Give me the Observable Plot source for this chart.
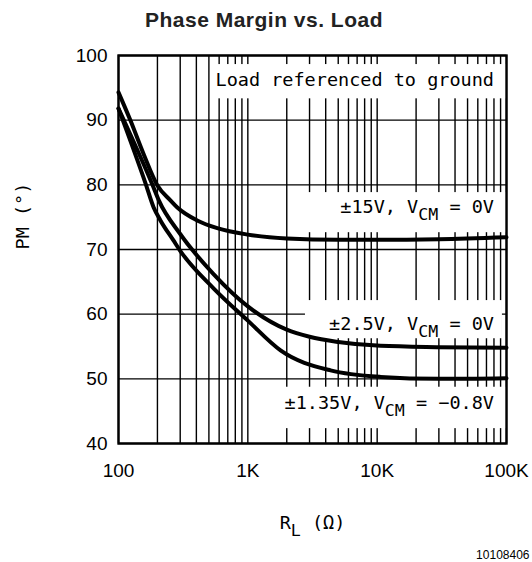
<!DOCTYPE html>
<html><head><meta charset="utf-8">
<script src="https://cdn.jsdelivr.net/npm/d3@7"></script>
<script src="https://cdn.jsdelivr.net/npm/@observablehq/plot@0.6"></script>
<style>body{margin:0;background:#fff}</style>
</head><body><div id="chart"></div>
<script>
// Axis ticks
const xTicks = [100, 1000, 10000, 100000];
const xTickLabels = ["100", "1K", "10K", "100K"];
const yTicks = [40, 50, 60, 70, 80, 90, 100];
const minorX = [200,300,400,500,600,700,800,900,2000,3000,4000,5000,6000,7000,8000,9000,20000,30000,40000,50000,60000,70000,80000,90000];

// Series: ±15V, VCM = 0V
const r15 = [100, 124, 156, 200, 252, 285, 406, 580, 1000, 2000, 5000, 10000, 30000, 100000];
const pm15 = [94.3, 89.9, 84.8, 79.9, 77.6, 76.5, 74.5, 73.3, 72.3, 71.7, 71.5, 71.5, 71.6, 71.9];
// Series: ±2.5V, VCM = 0V
const r25 = [100, 183, 205, 300, 543, 1000, 2000, 3000, 5000, 10600, 30000, 100000];
const pm25 = [91.8, 80.0, 77.6, 72.4, 66.2, 61.2, 57.6, 56.5, 55.7, 55.1, 54.9, 54.8];
// Series: ±1.35V, VCM = -0.8V
const r135 = [100, 162, 187, 211, 266, 300, 543, 1000, 1790, 4360, 10600, 30000, 100000];
const pm135 = [91.8, 80.2, 76.5, 74.5, 71.4, 69.8, 64.0, 59.0, 54.4, 51.3, 50.3, 50.0, 50.1];

// Annotations
const labelText = ["Load referenced to ground", "±15V, V_{CM} = 0V", "±2.5V, V_{CM} = 0V", "±1.35V, V_{CM} = −0.8V"];
const labelX = [80000, 80000, 80000, 80000];
const labelY = [96.2, 76.5, 58.4, 46.2];
const boxX1 = [543, 2465, 2790, 1211];
const boxX2 = [100000, 100000, 93000, 100000];
const boxY1 = [93.3, 72.6, 56.2, 42.3];
const boxY2 = [98.6, 78.8, 62.1, 48.7];
const titleText = "Phase Margin vs. Load";

const toPts = (rs, ps) => rs.map((r, i) => ({r, pm: ps[i]}));
const boxes = boxX1.map((x1, i) => ({x1, x2: boxX2[i], y1: boxY1[i], y2: boxY2[i]}));
const labels = labelText.map((t, i) => ({t, x: labelX[i], y: labelY[i]}));

const mono = "DejaVu Sans Mono, monospace";
const sans = "Liberation Sans, Arial, Helvetica, sans-serif";
const lineOpts = {x: "r", y: "pm", stroke: "black", strokeWidth: 4, curve: "monotone-x"};

const plot = Plot.plot({
  width: 532, height: 562,
  marginLeft: 118, marginRight: 26, marginTop: 55, marginBottom: 119,
  x: {type: "log", domain: [100, 100000]},
  y: {domain: [40, 100]},
  style: {background: "white", color: "black", fontFamily: sans},
  marks: [
    Plot.ruleX(minorX, {stroke: "black", strokeWidth: 1.4}),
    Plot.ruleX(xTicks, {stroke: "black", strokeWidth: 1.4}),
    Plot.ruleY(yTicks, {stroke: "black", strokeWidth: 1.4}),
    Plot.rect(boxes, {x1: "x1", x2: "x2", y1: "y1", y2: "y2", fill: "white"}),
    Plot.line(toPts(r15, pm15), lineOpts),
    Plot.line(toPts(r25, pm25), lineOpts),
    Plot.line(toPts(r135, pm135), lineOpts),
    Plot.frame({stroke: "black", strokeWidth: 2.4}),
    Plot.axisX(xTicks, {tickFormat: d => xTickLabels[xTicks.indexOf(d)], tickSize: 0, tickPadding: 20, fontSize: 19, label: null, fontFamily: sans}),
    Plot.axisY(yTicks, {tickSize: 0, tickPadding: 11, fontSize: 19, label: null, fontFamily: sans}),
    Plot.text(labels, {x: "x", y: "y", text: "t", textAnchor: "end", lineAnchor: "middle", fontSize: 18.5, fontFamily: mono, fill: "black"}),
    Plot.text([titleText], {frameAnchor: "top", dx: -48.5, dy: -35, lineAnchor: "middle", fontWeight: "bold", fontSize: 21, fill: "#222", fontFamily: sans}),
    Plot.text(["PM (°)"], {frameAnchor: "left", dx: -95, rotate: -90, lineAnchor: "middle", fontSize: 18.5, fontFamily: mono, fill: "black"}),
    Plot.text(["R_{L} (Ω)"], {frameAnchor: "bottom", dy: 79.5, lineAnchor: "middle", fontSize: 18.5, fontFamily: mono, fill: "black"}),
    Plot.text(["10108406"], {frameAnchor: "bottom-right", dx: 23, dy: 112, textAnchor: "end", lineAnchor: "middle", fontSize: 12, fontFamily: sans, fill: "black"})
  ]
});

d3.select(plot).selectAll("text").each(function() {
  const t = this.textContent;
  if (t === titleText) { d3.select(this).style("letter-spacing", "0.5px"); return; }
  const m = t.match(/^(.*?)_\{(.*?)\}(.*)$/);
  if (!m) return;
  const el = d3.select(this).style("white-space", "pre");
  el.text(null);
  el.append("tspan").text(m[1]);
  el.append("tspan").attr("dy", 7).attr("font-size", "0.9em").text(m[2]);
  el.append("tspan").attr("dy", -7).text(m[3]);
});

document.getElementById("chart").appendChild(plot);
</script>
</body></html>
